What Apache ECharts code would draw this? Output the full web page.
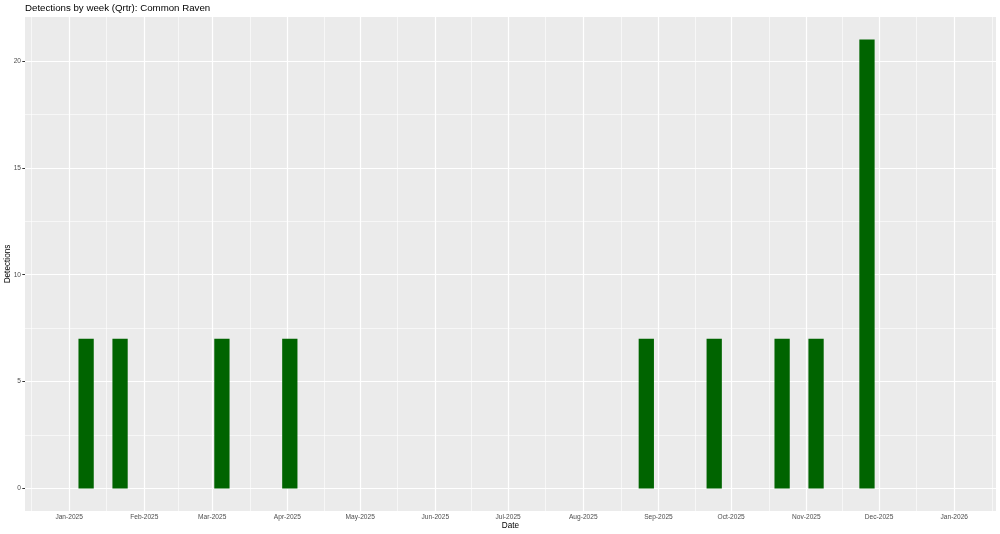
<!DOCTYPE html>
<html>
<head>
<meta charset="utf-8">
<script src="https://cdn.jsdelivr.net/npm/echarts@6/dist/echarts.min.js"></script>
<style>
html,body{margin:0;padding:0;background:#fff;}
#chart{width:1000px;height:534px;}
</style>
</head>
<body>
<div id="chart"></div>
<script>
// ---- data ----
const weekDates = ['2025-01-08','2025-01-22','2025-03-05','2025-04-02','2025-08-27','2025-09-24','2025-10-22','2025-11-05','2025-11-26'];
const detections = [7, 7, 7, 7, 7, 7, 7, 7, 21];
const tickDates = ['2025-01-01','2025-02-01','2025-03-01','2025-04-01','2025-05-01','2025-06-01','2025-07-01','2025-08-01','2025-09-01','2025-10-01','2025-11-01','2025-12-01','2026-01-01'];
const tickLabels = ['Jan-2025','Feb-2025','Mar-2025','Apr-2025','May-2025','Jun-2025','Jul-2025','Aug-2025','Sep-2025','Oct-2025','Nov-2025','Dec-2025','Jan-2026'];
const yTicks = [0, 5, 10, 15, 20];
const yMinor = [2.5, 7.5, 12.5, 17.5];
const titleText = 'Detections by week (Qrtr): Common Raven';

// ---- helpers ----
const DAY = 86400000;
function ts(s){ const p = s.split('-').map(Number); return Date.UTC(p[0], p[1]-1, p[2]); }
const tickTs = tickDates.map(ts);
const labelMap = {};
tickTs.forEach((t,i)=>{ labelMap[t] = tickLabels[i]; });
const outerBreaks = [Date.UTC(2024,11,1)].concat(tickTs, [Date.UTC(2026,1,1)]);
const xMinor = [];
for (let i=0;i<outerBreaks.length-1;i++) xMinor.push((outerBreaks[i]+outerBreaks[i+1])/2);

const limLo = Date.UTC(2025,0,1), limHi = Date.UTC(2025,11,31);
const xExp = (limHi - limLo) * 0.05;
const xMin = limLo - xExp, xMax = limHi + xExp;
const yMax = Math.max(...detections);
const yMin = -0.05*yMax, yMaxE = yMax*1.05;

const barHalf = 0.9*7*DAY/2;
const barData = weekDates.map((d,i)=>[ts(d), detections[i]]);

const font = 'Liberation Sans, Arial, Helvetica, sans-serif';

const gridLines = [];
yMinor.forEach(v=>gridLines.push({yAxis:v, lineStyle:{color:'#ffffff', width:0.6, type:'solid'}}));
xMinor.forEach(v=>gridLines.push({xAxis:v, lineStyle:{color:'#ffffff', width:0.6, type:'solid'}}));
yTicks.forEach(v=>gridLines.push({yAxis:v, lineStyle:{color:'#ffffff', width:1.2, type:'solid'}}));
tickTs.forEach(v=>gridLines.push({xAxis:v, lineStyle:{color:'#ffffff', width:1.2, type:'solid'}}));

const chart = echarts.init(document.getElementById('chart'), null, {renderer:'canvas'});
chart.setOption({
  animation:false,
  backgroundColor:'#ffffff',
  title:{
    text:titleText, left:25, top:3, padding:0,
    textStyle:{fontFamily:font, fontSize:9.7, fontWeight:'normal', color:'#000'}
  },
  grid:{left:25, right:4, top:17, bottom:23, show:true, backgroundColor:'#EBEBEB', borderWidth:0,
    containLabel:false, outerBoundsMode:'none'},
  xAxis:{
    type:'value', min:xMin, max:xMax, scale:true,
    name:'Date', nameLocation:'middle', nameGap:11, nameMoveOverlap:false,
    nameTextStyle:{fontFamily:font, fontSize:8.2, color:'#000', verticalAlign:'top'},
    axisLine:{show:false},
    axisTick:{show:true, customValues:tickTs, length:2.7, lineStyle:{color:'#333333', width:1}},
    axisLabel:{show:true, customValues:tickTs, margin:3, fontFamily:font, fontSize:6.6, color:'#4D4D4D',
      formatter:(v)=>labelMap[v] || ''},
    splitLine:{show:false}, minorSplitLine:{show:false}
  },
  yAxis:{
    type:'value', min:yMin, max:yMaxE,
    name:'Detections', nameLocation:'middle', nameGap:17, nameRotate:90, nameMoveOverlap:false,
    nameTextStyle:{fontFamily:font, fontSize:8.2, color:'#000', verticalAlign:'middle'},
    axisLine:{show:false},
    axisTick:{show:true, customValues:yTicks, length:2.7, lineStyle:{color:'#333333', width:1}},
    axisLabel:{show:true, customValues:yTicks, margin:4, fontFamily:font, fontSize:6.6, color:'#4D4D4D'},
    splitLine:{show:false}
  },
  series:[
    {
      type:'line', data:[], z:1, silent:true,
      markLine:{z:1, silent:true, symbol:['none','none'], label:{show:false}, animation:false, data:gridLines}
    },
    {
      type:'custom', z:10,
      data:barData,
      renderItem:function(params, api){
        const t = api.value(0), v = api.value(1);
        const p1 = api.coord([t - barHalf, v]);
        const p2 = api.coord([t + barHalf, 0]);
        return {type:'rect', z2:10, shape:{x:p1[0], y:p1[1], width:p2[0]-p1[0], height:p2[1]-p1[1]},
          style:{fill:'#006400'}};
      }
    }
  ]
});
</script>
</body>
</html>
